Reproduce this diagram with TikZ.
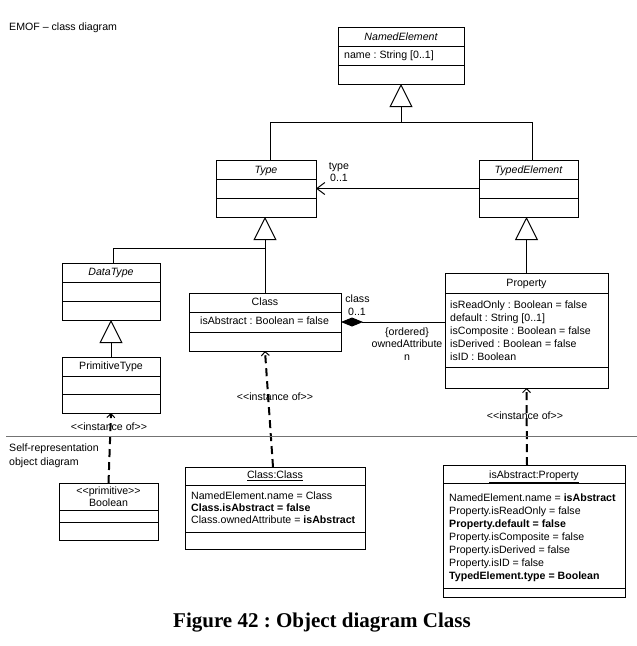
\documentclass[tikz,border=0pt]{standalone}
\usepackage{fontspec}
\setmainfont{Liberation Sans}
\newfontfamily\titlefont{Liberation Serif}
\usetikzlibrary{arrows.meta,fit}
\frenchspacing
\newcommand{\umlbox}[7]{%
  \node[boxframe, fit={(#2,#3) (#4,#5)}] (#1) {};
  \draw[boxline] (#2,#6) -- (#4,#6);
  \draw[boxline] (#2,#7) -- (#4,#7);
}
\tikzset{
  boxframe/.style={draw, line width=1pt, inner sep=0pt, outer sep=0pt},
  boxline/.style={line width=1pt},
  txt/.style={inner sep=0pt, anchor=base, font=\fontsize{10.6}{13}\selectfont},
  ltxt/.style={txt, anchor=base west},
  conn/.style={line width=1pt},
  gen/.style={conn, -{Triangle[open, length=23pt, width=23pt, line width=1pt]}},
  nav/.style={conn, -{Straight Barb[length=8pt, width=12pt, line width=1pt]}},
  comp/.style={conn, {Diamond[length=22pt, width=9pt]}-},
  inst/.style={line width=2pt, dash pattern=on 8pt off 5pt, -{Straight Barb[length=4pt, width=8pt, line width=1pt]}},
  sepline/.style={line width=1pt, black!55},
}
\begin{document}
\frenchspacing
\begin{tikzpicture}[x=1pt, y=-1pt]
\useasboundingbox (0,0) rectangle (637,646);

% boxes
\umlbox{ne}{338}{27}{464}{84}{46}{65}
\umlbox{type}{216}{160}{316}{217}{179}{198}
\umlbox{te}{479}{160}{578}{217}{179}{198}
\umlbox{dt}{62}{263}{160}{320}{282}{301}
\umlbox{cls}{189}{293}{341}{351}{312}{332}
\umlbox{prim}{62}{357}{160}{413}{376}{394}
\umlbox{prop}{445}{273}{608}{388}{293}{367}
\umlbox{bool}{59}{483}{158}{540}{510}{522}
\umlbox{cc}{185}{467}{365}{549}{485}{532}
\umlbox{ip}{443}{465}{625}{597}{483}{588}

% generalizations
\coordinate (j1) at (ne.south |- 0,122);
\draw[conn] (type.north) ++(4,0) |- (j1);
\draw[conn] (te.north) ++(3.5,0) |- (j1);
\draw[gen] (j1) -- (ne.south);
\coordinate (j2) at (cls.north |- 0,248);
\draw[conn] (dt.north) ++(2,0) |- (j2);
\draw[gen] (cls.north) -- (cls.north |- type.south);
\draw[gen] (prop.north) -- (prop.north |- te.south);
\draw[gen] (prim.north) -- (dt.south);

% associations
\draw[nav] (te.west) -- (type.east);
\draw[comp] (cls.east) -- (cls.east -| prop.west);

% instance of
\draw[inst] (cc.north) ++(-2,0) -- (cls.south);
\draw[inst] (ip.north) ++(-7,0) -- (prop.south);
\draw[inst] (bool.north) -- (prim.south);

% separator
\coordinate (s1) at (6,436);
\coordinate (s2) at (637,436);
\draw[sepline] (s1) -- (s2);

% class diagram texts
\node[txt] (neT) at (401,40.8) {\itshape NamedElement};
\node[ltxt] (neA) at (344,58.8) {name : String [0..1]};
\node[txt] (typeT) at (266,173.8) {\itshape Type};
\node[txt] (teT) at (528.5,173.8) {\itshape TypedElement};
\node[txt] (dtT) at (111,275.8) {\itshape DataType};
\node[txt] (clsT) at (265,305.8) {Class};
\node[ltxt] (clsA) at (200,324.8) {isAbstract : Boolean = false};
\node[txt] (primT) at (111,369.8) {PrimitiveType};
\node[txt] (propT) at (526.5,286.8) {Property};
\node[ltxt] (propA1) at (450,308) {isReadOnly : Boolean = false};
\node[ltxt] (propA2) at (450,321) {default : String [0..1]};
\node[ltxt] (propA3) at (450,334) {isComposite : Boolean = false};
\node[ltxt] (propA4) at (450,347) {isDerived : Boolean = false};
\node[ltxt] (propA5) at (450,360) {isID : Boolean};

% association labels
\node[txt] (lType) at (339,169.8) {type};
\node[txt] (lType2) at (339,181.8) {0..1};
\node[txt] (lCls) at (357.5,302.8) {class};
\node[txt] (lCls2) at (357,315.8) {0..1};
\node[txt] (lOrd) at (407,335.8) {\{ordered\}};
\node[txt] (lOwn) at (407,347.8) {ownedAttribute};
\node[txt] (lOwn2) at (407,360.8) {n};

% instance labels
\node[txt] (iCls) at (275,400.8) {<{}<instance of>{}>};
\node[txt] (iPrim) at (109,430.8) {<{}<instance of>{}>};
\node[txt] (iProp) at (525,419.8) {<{}<instance of>{}>};

% headings
\node[ltxt] (head1) at (9,30.5) {EMOF – class diagram};
\node[ltxt] (head2) at (9,451.8) {Self-representation};
\node[ltxt] (head3) at (9,465.8) {object diagram};

% object diagram texts
\node[txt] (boolS) at (108.5,494.8) {<{}<primitive>{}>};
\node[txt] (boolT) at (108.5,506.8) {Boolean};
\node[txt] (ccT) at (275,478.8) {\underline{Class:Class}};
\node[ltxt] (ccA1) at (191,499.8) {NamedElement.name = Class};
\node[ltxt] (ccA2) at (191,511.8) {\bfseries Class.isAbstract = false};
\node[ltxt] (ccA3) at (191,523.8) {Class.ownedAttribute = \textbf{isAbstract}};
\node[txt] (ipT) at (534,478.8) {\underline{isAbstract:Property}};
\node[ltxt] (ipA1) at (449,501.8) {NamedElement.name = \textbf{isAbstract}};
\node[ltxt] (ipA2) at (449,514.8) {Property.isReadOnly = false};
\node[ltxt] (ipA3) at (449,527.8) {\bfseries Property.default = false};
\node[ltxt] (ipA4) at (449,540.8) {Property.isComposite = false};
\node[ltxt] (ipA5) at (449,553.8) {Property.isDerived = false};
\node[ltxt] (ipA6) at (449,566.8) {Property.isID = false};
\node[ltxt] (ipA7) at (449,579.8) {\bfseries TypedElement.type = Boolean};

% caption
\node[inner sep=0pt, anchor=base, font=\titlefont\bfseries\fontsize{21}{25}\selectfont] (caption) at (322,627) {Figure 42 : Object diagram Class};
\end{tikzpicture}
\end{document}
